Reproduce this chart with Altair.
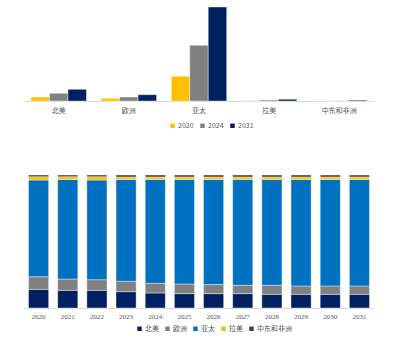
import altair as alt
import pandas as pd

regions = ["北美", "欧洲", "亚太", "拉美", "中东和非洲"]
series_years = ["2020", "2024", "2031"]
vals_2020 = [4.0, 2.7, 24.7, 0.3, 0.05]
vals_2024 = [7.7, 4.0, 55.7, 1.0, 0.15]
vals_2031 = [11.7, 6.3, 94.0, 1.7, 0.8]

years = [str(y) for y in range(2020, 2032)]
share_na = [14.0, 13.3, 13.3, 12.3, 11.3, 10.8, 10.8, 10.8, 10.3, 10.3, 10.3, 10.3]
share_eu = [9.5, 8.5, 8.0, 7.8, 7.3, 7.3, 6.8, 6.3, 6.8, 6.3, 6.3, 6.3]
share_ap = [72.7, 74.9, 74.9, 76.6, 78.1, 78.6, 79.1, 79.6, 79.6, 80.1, 80.1, 80.1]
share_la = [2.5, 2.0, 2.5, 1.8, 1.8, 1.8, 1.8, 1.8, 1.8, 1.8, 1.8, 1.8]
share_me = [1.3, 1.3, 1.3, 1.5, 1.5, 1.5, 1.5, 1.5, 1.5, 1.5, 1.5, 1.5]

top_colors = ["#FFC000", "#808080", "#002060"]
region_colors = ["#002060", "#808080", "#0070C0", "#FFC000", "#404040"]

rows = []
for s, vals in zip(series_years, [vals_2020, vals_2024, vals_2031]):
    for r, v in zip(regions, vals):
        rows.append({"region": r, "series": s, "value": v})
df_top = pd.DataFrame(rows)

rows = []
for i, (r, vals) in enumerate(zip(regions, [share_na, share_eu, share_ap, share_la, share_me])):
    for y, v in zip(years, vals):
        rows.append({"year": y, "region": r, "share": v, "idx": i})
df_bot = pd.DataFrame(rows)

FONT = "Noto Sans CJK SC"
legend_cfg = dict(orient="none", direction="horizontal", title=None, symbolType="square",
                  symbolSize=20, labelFontSize=7, labelColor="#595959", labelFont=FONT,
                  symbolStrokeWidth=0, columnPadding=5, labelOffset=2, padding=0)

top = alt.Chart(df_top).mark_bar(stroke="white", strokeWidth=0.4).encode(
    x=alt.X("region:N", sort=regions, title=None,
            scale=alt.Scale(paddingInner=0.21, paddingOuter=0.1),
            axis=alt.Axis(labelAngle=0, ticks=False, domainColor="#D9D9D9", labelFontSize=7,
                          labelColor="#595959", labelFont=FONT, labelPadding=5)),
    xOffset=alt.XOffset("series:N", sort=series_years),
    y=alt.Y("value:Q", axis=None, scale=alt.Scale(domain=[0, 96], nice=False)),
    color=alt.Color("series:N", sort=series_years,
                    scale=alt.Scale(domain=series_years, range=top_colors),
                    legend=alt.Legend(legendX=145, legendY=117, **legend_cfg)),
).properties(width=350, height=96)

bottom = alt.Chart(df_bot).mark_bar(stroke="white", strokeWidth=0.4).encode(
    x=alt.X("year:N", sort=years, title=None,
            scale=alt.Scale(paddingInner=0.31, paddingOuter=0.155),
            axis=alt.Axis(labelAngle=0, ticks=False, domainColor="#D9D9D9", labelFontSize=7,
                          labelColor="#595959", labelFont="Liberation Serif", labelPadding=4)),
    y=alt.Y("share:Q", stack="normalize", axis=None),
    color=alt.Color("region:N", sort=regions,
                    scale=alt.Scale(domain=regions, range=region_colors),
                    legend=alt.Legend(legendX=112, legendY=150, **legend_cfg)),
    order=alt.Order("idx:Q", sort="ascending"),
).properties(width=350, height=133)

chart = alt.vconcat(top, bottom, spacing=45).resolve_scale(color="independent").resolve_legend(
    color="independent"
).properties(
    padding={"left": 24, "top": 5, "right": 0, "bottom": 0},
    background="white",
).configure_view(stroke=None)

chart.save("out.html", embed_options={"renderer": "svg", "actions": False})
